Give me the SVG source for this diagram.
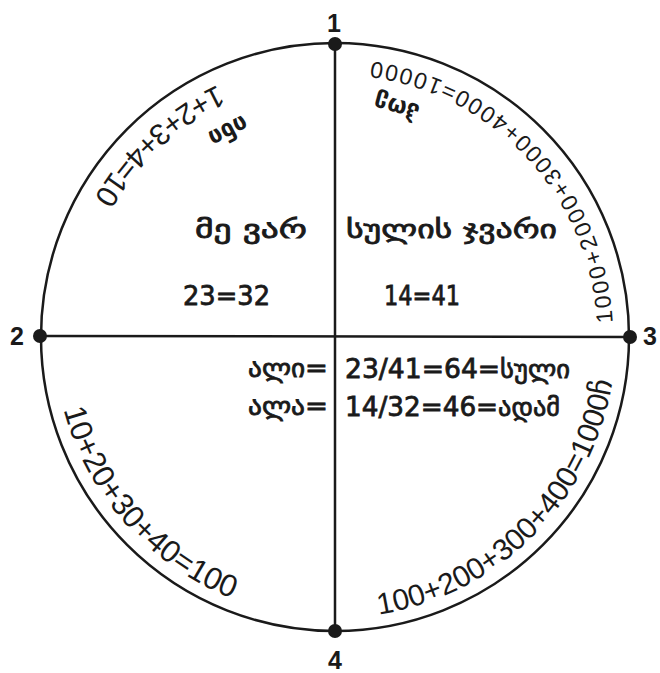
<svg xmlns="http://www.w3.org/2000/svg" width="660" height="673" viewBox="0 0 660 673">
<style>
.ln{fill:none;stroke:#1a1a1a;stroke-width:2.5}
.dot{fill:#1a1a1a}
.num{font-family:'Liberation Sans',Arial,sans-serif;font-weight:bold;font-size:25px;fill:#1a1a1a;text-anchor:middle}
.ctr{font-family:'DejaVu Sans','Noto Sans',sans-serif;font-size:26px;fill:#1a1a1a;stroke:#1a1a1a;stroke-width:0.8}
.arc{font-family:'Liberation Sans','DejaVu Sans',sans-serif;fill:#1a1a1a}
.wrd{font-family:'DejaVu Sans',sans-serif;font-weight:bold;font-size:24px;fill:#1a1a1a;text-anchor:middle}
</style>
<defs>
<path id="pLL" d="M63.6,409.7 A281,281 0 0 0 310.5,616.9"/>
<path id="pLR" d="M378.9,614.5 A281,281 0 0 0 614.9,312.5"/>
<path id="pUR" d="M612.6,322.5 A278,278 0 0 0 286.7,63.2"/>
<path id="pUL" d="M217.5,85.0 A278,278 0 0 0 58.1,312.8"/>
</defs>
<g id="connectors">
<circle class="ln" cx="335" cy="337" r="294"/>
<line class="ln" x1="335" y1="44" x2="335" y2="631"/>
<line class="ln" x1="40" y1="336" x2="630" y2="337"/>
</g>
<g id="node1"><circle class="dot" cx="335" cy="44" r="7"/><text class="num" x="334" y="32">1</text></g>
<g id="node2"><circle class="dot" cx="40" cy="336" r="7"/><text class="num" x="17" y="345">2</text></g>
<g id="node3"><circle class="dot" cx="630" cy="337" r="7"/><text class="num" x="650" y="345">3</text></g>
<g id="node4"><circle class="dot" cx="335" cy="631" r="7"/><text class="num" x="335" y="669">4</text></g>
<g id="center">
<text class="ctr" x="195" y="238" textLength="112" lengthAdjust="spacingAndGlyphs">მე ვარ</text>
<text class="ctr" x="346" y="238" textLength="211" lengthAdjust="spacingAndGlyphs">სულის ჯვარი</text>
<text class="ctr" x="183" y="305" textLength="87" lengthAdjust="spacingAndGlyphs">23=32</text>
<text class="ctr" x="384" y="305" textLength="76" lengthAdjust="spacingAndGlyphs">14=41</text>
<text class="ctr" x="248" y="377" textLength="80" lengthAdjust="spacingAndGlyphs">ალი=</text>
<text class="ctr" x="248" y="415" textLength="80" lengthAdjust="spacingAndGlyphs">ალა=</text>
<text class="ctr" x="345" y="378" textLength="225" lengthAdjust="spacingAndGlyphs">23/41=64=სული</text>
<text class="ctr" x="345" y="416" textLength="215" lengthAdjust="spacingAndGlyphs">14/32=46=ადამ</text>
</g>
<g id="arcs">
<text class="arc" font-size="31"><textPath href="#pLL">10+20+30+40=100</textPath></text>
<text class="arc" font-size="30"><textPath href="#pLR">100+200+300+400=1000ჩ</textPath></text>
<text class="arc" font-size="23" letter-spacing="2.6"><textPath href="#pUR">1000+2000+3000+4000=10000</textPath></text>
<text class="arc" font-size="30"><textPath href="#pUL">1+2+3+4=10</textPath></text>
<text class="wrd" transform="translate(224.6,123.9) rotate(152.6)">ინი</text>
<text class="wrd" transform="translate(398.7,99.4) rotate(-165)">ჰოე</text>
</g>
</svg>
